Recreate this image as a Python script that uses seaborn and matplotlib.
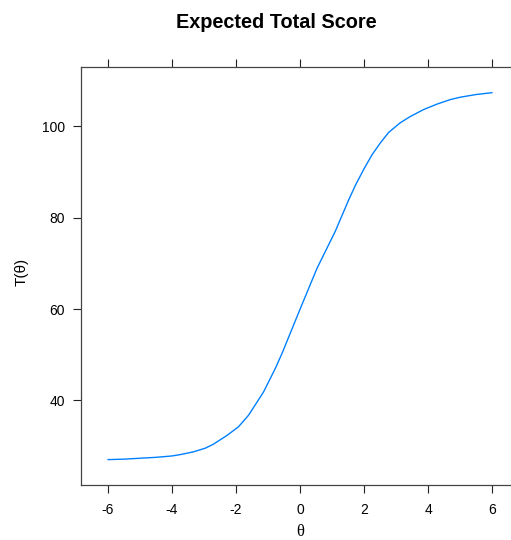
import numpy as np
import pandas as pd
import matplotlib
matplotlib.use("Agg")
import matplotlib.pyplot as plt
import seaborn as sns

# points
theta = [-6.0, -5.5, -5.0, -4.5, -4.0, -3.74, -3.33, -2.96, -2.70, -2.28, -1.92, -1.61,
         -1.14, -0.77, -0.56, 0.01, 0.53, 1.10, 1.52, 1.73, 1.99, 2.25, 2.51, 2.77,
         3.13, 3.45, 3.86, 4.28, 4.70, 5.0, 5.5, 6.0]
score = [27.0, 27.1, 27.3, 27.5, 27.8, 28.1, 28.7, 29.5, 30.4, 32.3, 34.2, 36.7,
         41.8, 47.0, 50.3, 60.1, 68.9, 77.0, 83.9, 87.1, 90.6, 93.8, 96.4, 98.7,
         100.8, 102.2, 103.7, 104.9, 105.9, 106.4, 107.0, 107.4]
xticks = [-6, -4, -2, 0, 2, 4, 6]
yticks = [40, 60, 80, 100]

df = pd.DataFrame({"theta": theta, "T": score})

sns.set_theme(style="white")
plt.rcParams["font.family"] = ["Liberation Sans", "DejaVu Sans"]
plt.rcParams["axes.unicode_minus"] = False
plt.rcParams["text.color"] = "black"
plt.rcParams["axes.labelcolor"] = "black"

fig = plt.figure(figsize=(5.11, 5.40), dpi=100)
fig.patch.set_linewidth(0)
fig.patch.set_edgecolor("none")
ax = fig.add_axes([81 / 511, 1 - 485.3 / 540, 438 / 511, (485.3 - 67) / 540])
ax.patch.set_visible(False)

sns.lineplot(data=df, x="theta", y="T", color="#0080FF", linewidth=1.0, ax=ax)

# lattice-style padding (7% of range)
xr = max(theta) - min(theta)
yr = max(score) - min(score)
ax.set_xlim(min(theta) - 0.07 * xr, max(theta) + 0.07 * xr)
ax.set_ylim(min(score) - 0.07 * yr, max(score) + 0.07 * yr)

ax.set_xticks(xticks)
ax.set_yticks(yticks)
ax.tick_params(axis="both", direction="out", length=5.5, width=0.8, colors="#222222",
               labelcolor="black", labelsize=10)
ax.tick_params(axis="x", top=True, bottom=True, pad=7)
ax.tick_params(axis="y", left=True, right=False, pad=6)
ax.spines["right"].set_visible(False)
for name in ["left", "top", "bottom"]:
    ax.spines[name].set_color("#444444")
    ax.spines[name].set_linewidth(0.9)

ax.set_xlabel("θ", fontsize=12, family=["Liberation Serif", "DejaVu Serif"], labelpad=5)
ax.set_ylabel("T(θ)", fontsize=11)
ax.yaxis.set_label_coords(-0.120, 0.511)

fig.text(276 / 511, 1 - 22 / 540, "Expected Total Score", ha="center", va="center",
         fontsize=14.3, fontweight="bold")

fig.savefig("out.png", dpi=100, facecolor="white", edgecolor="none")
